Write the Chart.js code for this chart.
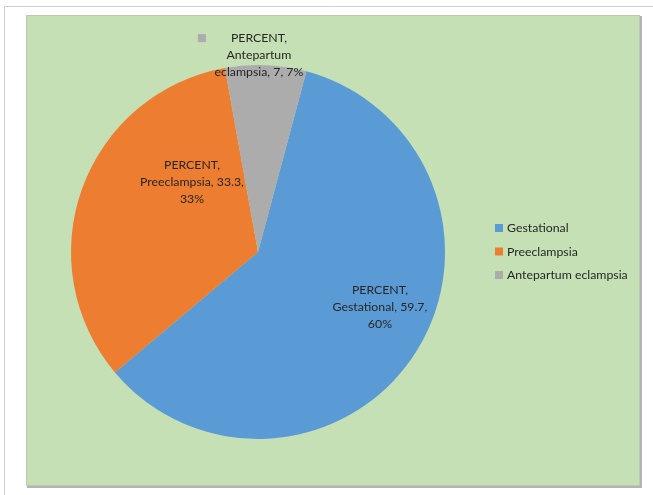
<!DOCTYPE html>
<html>
<head>
<meta charset="utf-8">
<script src="https://cdn.jsdelivr.net/npm/chart.js@4"></script>
<style>
    html, body { margin: 0; padding: 0; background: #ffffff; }
    #wrap { width: 653px; height: 495px; }
</style>
</head>
<body>
<div id="wrap"><canvas id="myChart" width="653" height="495"></canvas></div>
<script>
const seriesName = 'PERCENT';
const categories = ['Gestational', 'Preeclampsia', 'Antepartum eclampsia'];
const percents = [59.7, 33.3, 7];
const sliceColors = ['#5b9bd5', '#ed7d31', '#acacac'];

const FONT = '12.3px Lato, "Open Sans", sans-serif';
const TEXT_COLOR = '#262626';

// label text for each slice: series, category, value, rounded share
function labelLines(i){
    const total = percents.reduce((a, b) => a + b, 0);
    const share = Math.round(percents[i] / total * 100) + '%';
    if(i === 2){
        // the long name wraps over two lines
        const words = categories[i].split(' ');
        return [seriesName + ',', words[0], words[1] + ', ' + percents[i] + ', ' + share];
    }
    return [seriesName + ',', categories[i] + ', ' + percents[i] + ',', share];
}

// where each label block sits, relative to the pie centre, in radii
const labelSpots = [
    {dx: 0.652, dy: 0.294},
    {dx: -0.353, dy: -0.374},
    {dx: 0.005, dy: -1.053}
];

class ChartDrawer{
    constructor(){
        this.ctx = document.getElementById('myChart').getContext('2d');
    }

    backgroundPlugin(){
        return {
            id: 'panel',
            beforeDraw(chart){
                const c = chart.ctx;
                c.save();
                // outer frame
                c.strokeStyle = '#cfcfcf';
                c.lineWidth = 1;
                c.beginPath();
                c.moveTo(4.5, 495);
                c.lineTo(4.5, 6.5);
                c.lineTo(653, 6.5);
                c.stroke();
                // plot panel with a thin shadow
                c.fillStyle = '#b3b3b3';
                c.fillRect(27, 16, 615, 472);
                c.fillStyle = '#c5e0b4';
                c.fillRect(26, 15, 614, 471);
                c.strokeStyle = '#bcc9b3';
                c.strokeRect(26.5, 15.5, 613, 470);
                c.restore();
            }
        };
    }

    labelPlugin(){
        return {
            id: 'sliceLabels',
            afterDatasetsDraw(chart){
                const c = chart.ctx;
                const arcs = chart.getDatasetMeta(0).data;
                const cx = arcs[0].x, cy = arcs[0].y, r = arcs[0].outerRadius;
                c.save();
                c.font = FONT;
                c.fillStyle = TEXT_COLOR;
                c.textAlign = 'center';
                c.textBaseline = 'middle';
                const lh = 17;
                arcs.forEach((arc, i) => {
                    const lines = labelLines(i);
                    const x = cx + labelSpots[i].dx * r;
                    const y = cy + labelSpots[i].dy * r;
                    const top = y - (lines.length - 1) * lh / 2;
                    lines.forEach((t, k) => c.fillText(t, x, top + k * lh));
                    if(i === 2){
                        // legend key in front of the outside label
                        const w = c.measureText(lines[0]).width;
                        c.fillStyle = sliceColors[i];
                        c.fillRect(x - w / 2 - 33, top - 4, 8, 8);
                        c.fillStyle = TEXT_COLOR;
                    }
                });

                // legend on the right
                c.textAlign = 'left';
                categories.forEach((name, i) => {
                    const ly = 228 + i * 23.5;
                    c.fillStyle = sliceColors[i];
                    c.fillRect(495, ly - 4, 8, 8);
                    c.fillStyle = TEXT_COLOR;
                    c.fillText(name, 507, ly + 0.5);
                });
                c.restore();
            }
        };
    }

    drawChart(){
        new Chart(this.ctx, {
            type: 'pie',
            data: {
                labels: categories,
                datasets: [{
                    label: seriesName,
                    data: percents,
                    backgroundColor: sliceColors,
                    borderWidth: 0
                }]
            },
            options: {
                responsive: false,
                animation: false,
                rotation: 15,
                layout: {
                    padding: { left: 71, right: 208, top: 65, bottom: 56 }
                },
                plugins: {
                    legend: { display: false },
                    tooltip: { enabled: false }
                }
            },
            plugins: [this.backgroundPlugin(), this.labelPlugin()]
        });
    }
}

document.fonts.load(FONT).then(() => {
    const cd = new ChartDrawer();
    cd.drawChart();
});
</script>
</body>
</html>
